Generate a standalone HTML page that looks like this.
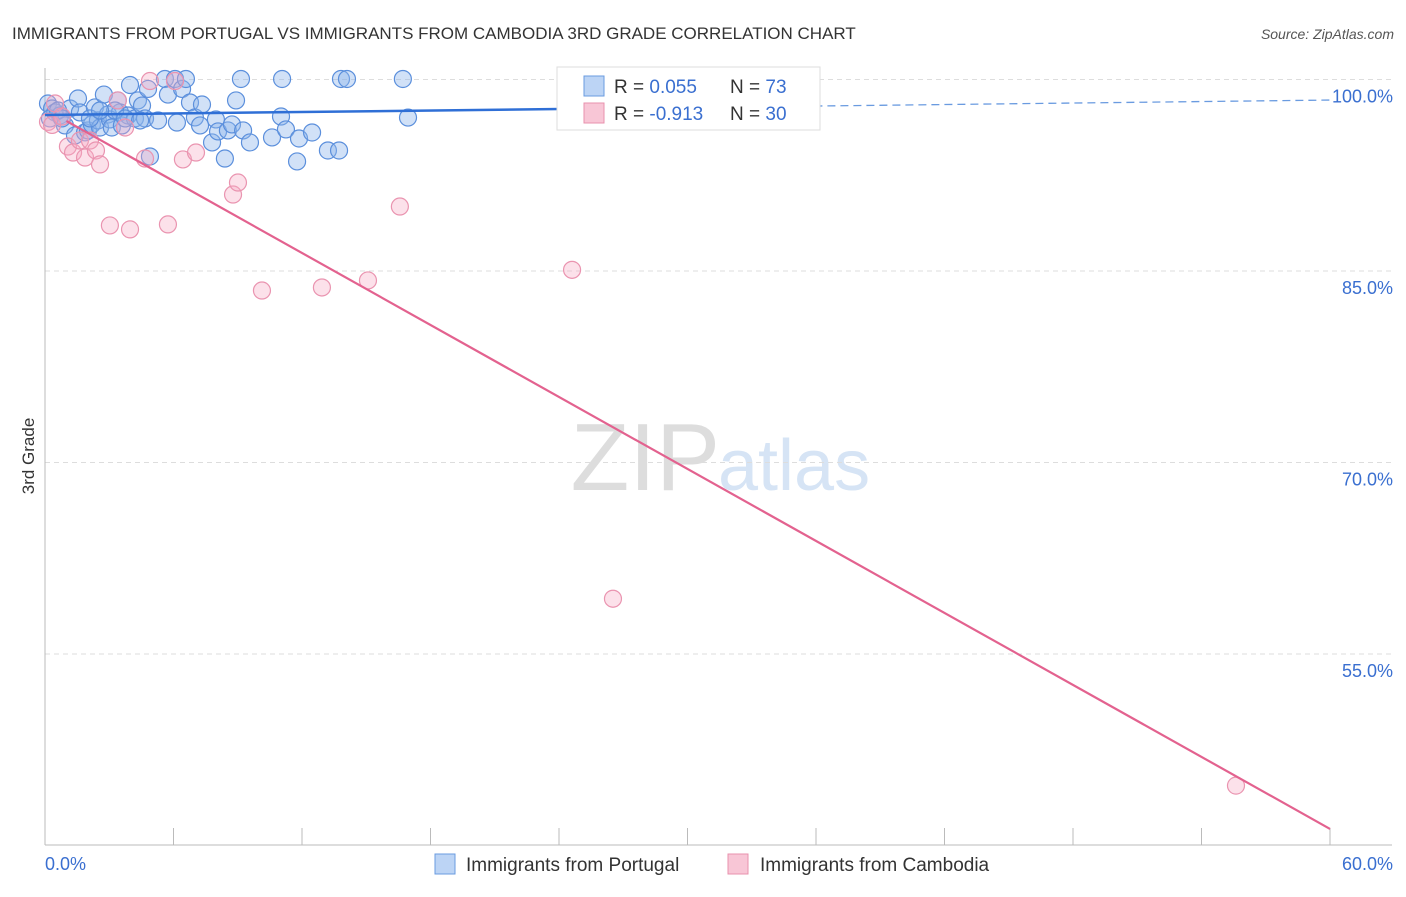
<!DOCTYPE html>
<html><head><meta charset="utf-8"><style>
body{margin:0;background:#fff;font-family:"Liberation Sans",sans-serif}
svg text{font-family:"Liberation Sans",sans-serif}
</style></head><body>
<svg width="1406" height="892">
<text x="12" y="39" font-size="17" fill="#333">IMMIGRANTS FROM PORTUGAL VS IMMIGRANTS FROM CAMBODIA 3RD GRADE CORRELATION CHART</text>
<text x="1394" y="39" font-size="14" fill="#555" text-anchor="end" font-style="italic">Source: ZipAtlas.com</text>
<text x="720" y="490" font-size="96" fill="#ddd" text-anchor="end" font-family="Liberation Serif">ZIP</text>
<text x="718" y="490" font-size="72" fill="#d6e4f5">atlas</text>
<g id="grid"></g>
<g id="axes"></g>
<g id="pts"></g>
<g id="lines"></g>
<text transform="translate(34,456) rotate(-90)" font-size="17" fill="#333" text-anchor="middle">3rd Grade</text>
<g>
<rect x="557" y="67" width="263" height="63" fill="#fff" stroke="#ddd"/>
<rect x="584" y="76" width="20" height="20" fill="#bcd4f5" stroke="#6a9be0"/>
<rect x="584" y="103" width="20" height="20" fill="#f8c6d6" stroke="#e891ad"/>
<text x="614" y="93" font-size="19" fill="#333">R = <tspan fill="#3a6fd0">0.055</tspan></text>
<text x="730" y="93" font-size="19" fill="#333">N = <tspan fill="#3a6fd0">73</tspan></text>
<text x="614" y="120" font-size="19" fill="#333">R = <tspan fill="#3a6fd0">-0.913</tspan></text>
<text x="730" y="120" font-size="19" fill="#333">N = <tspan fill="#3a6fd0">30</tspan></text>
</g>
<g>
<rect x="435" y="854" width="20" height="20" fill="#bcd4f5" stroke="#6a9be0"/>
<text x="466" y="871" font-size="19" fill="#333">Immigrants from Portugal</text>
<rect x="728" y="854" width="20" height="20" fill="#f8c6d6" stroke="#e891ad"/>
<text x="760" y="871" font-size="19" fill="#333">Immigrants from Cambodia</text>
</g>
</svg>
<script>
const yTicks=[100,85,70,55];
const yTickLabels=["100.0%","85.0%","70.0%","55.0%"];
const xTickCount=11;
const blueX=[0.14,0.33,0.47,0.7,0.23,0.93,1.17,1.4,1.54,1.63,1.87,2.01,2.19,2.33,2.47,2.57,2.75,2.94,3.03,3.12,3.4,3.5,3.59,3.88,3.97,4.2,4.34,4.53,4.67,4.81,4.9,5.28,5.6,5.74,6.07,6.16,6.4,6.58,6.77,7.0,7.24,7.33,7.8,7.98,8.08,8.4,8.54,8.73,8.92,9.15,9.25,9.57,10.6,11.07,11.02,11.25,11.77,11.86,12.47,13.21,13.73,13.82,14.1,16.71,16.95,25.0,0.61,0.79,2.1,3.27,3.74,4.44,2.57];
const blueY=[98.12,97.73,97.42,97.18,96.95,96.4,97.73,95.62,98.51,97.42,95.86,96.01,96.48,97.81,96.79,96.24,98.82,97.26,96.87,96.24,98.36,97.42,96.4,97.18,99.57,96.95,98.36,97.96,96.95,99.26,93.97,96.79,100.04,98.82,100.04,96.63,99.26,100.04,98.2,97.03,96.4,98.04,95.07,96.87,95.93,93.81,96.01,96.48,98.36,100.04,96.01,95.07,95.46,100.04,97.1,96.09,93.58,95.38,95.85,94.44,94.44,100.04,100.04,100.04,97.02,100.04,97.57,96.95,96.95,97.57,96.95,96.79,97.57];
const pinkX=[0.14,0.33,0.47,0.79,1.07,1.31,1.63,1.87,2.1,2.38,2.57,3.03,3.4,3.74,3.97,4.67,4.9,5.74,6.07,6.44,7.05,8.78,9.01,10.13,12.93,15.08,16.57,24.61,26.52,55.61];
const pinkY=[96.68,96.44,98.12,97.1,94.75,94.28,95.22,93.89,95.22,94.44,93.35,88.57,98.36,96.24,88.26,93.81,99.88,88.65,99.88,93.74,94.28,90.99,91.93,83.47,83.71,84.26,90.05,85.09,59.33,44.69];
const X=v=>45+v/60*1285, Y=v=>79.5+(100-v)/15*191.5;
const ns="http://www.w3.org/2000/svg";
function mk(p,t,a){const e=document.createElementNS(ns,t);for(const k in a)e.setAttribute(k,a[k]);document.getElementById(p).appendChild(e);return e;}
yTicks.forEach((v,i)=>{
const g=mk('grid','line',{x1:45,x2:1392,y1:Y(v),y2:Y(v),stroke:'#ddd','stroke-dasharray':'5,4'});


const t=mk('axes','text',{x:1393,y:Y(v)+23,'font-size':18,fill:'#3a6fd0','text-anchor':'end'});t.textContent=yTickLabels[i];


});
const ax=mk('axes','line',{x1:45,x2:45,y1:68,y2:845,stroke:'#bbb'});


const bx=mk('axes','line',{x1:45,x2:1392,y1:845,y2:845,stroke:'#bbb'});


for(let i=0;i<xTickCount;i++){const xx=X(i*6);const t=mk('axes','line',{x1:xx,x2:xx,y1:828,y2:845,stroke:'#bbb'});

}
const l0=mk('axes','text',{x:45,y:870,'font-size':18,fill:'#3a6fd0'});l0.textContent='0.0%';


const l1=mk('axes','text',{x:1393,y:870,'font-size':18,fill:'#3a6fd0','text-anchor':'end'});l1.textContent='60.0%';


blueX.forEach((x,i)=>{const c=mk('pts','circle',{cx:X(x),cy:Y(blueY[i]),r:8.5,fill:'rgba(140,180,235,0.4)',stroke:'#5b8fdc','stroke-width':1.2});

});
pinkX.forEach((x,i)=>{const c=mk('pts','circle',{cx:X(x),cy:Y(pinkY[i]),r:8.5,fill:'rgba(245,170,195,0.35)',stroke:'#ea94b0','stroke-width':1.2});

});
const bA=97.22,bB=98.39,pA=97.69,pB=41.3;
const bl=v=>bA+(bB-bA)*v/60;
const b1=mk('lines','line',{x1:X(0),y1:Y(bl(0)),x2:X(25),y2:Y(bl(25)),stroke:'#2f6fd6','stroke-width':2.5});


const b2=mk('lines','line',{x1:X(25),y1:Y(bl(25)),x2:X(60),y2:Y(bl(60)),stroke:'#6a9be0','stroke-width':1.3,'stroke-dasharray':'8,5'});


const p1=mk('lines','line',{x1:X(1),y1:Y(pA+(pB-pA)/60),x2:X(60),y2:Y(pB),stroke:'#e3628f','stroke-width':2.2});


</script>
</body></html>
